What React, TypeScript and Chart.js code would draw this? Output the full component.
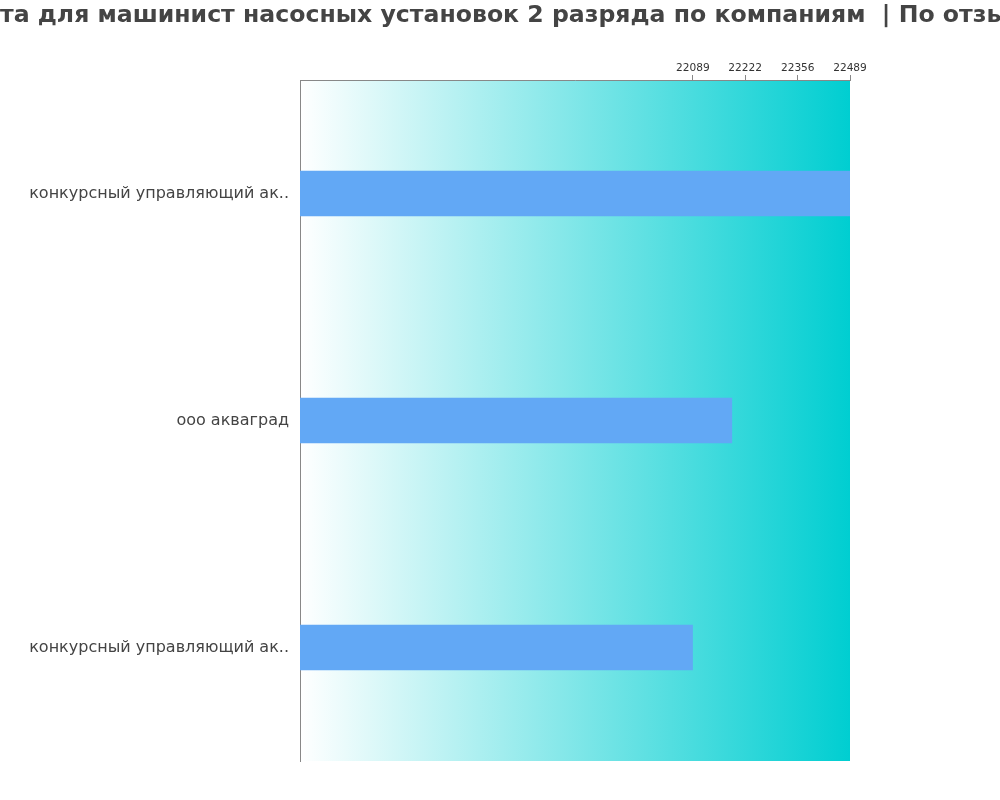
import React, { useEffect, useRef } from "react";
import { Chart, registerables } from "chart.js";

Chart.register(...registerables);

const TITLE = "Зарплата для машинист насосных установок 2 разряда по компаниям  | По отзывам";
const TITLE_HIDDEN_PREFIX = "Зарпла";
const categories = ["конкурсный управляющий ак..", "ооо акваград", "конкурсный управляющий ак.."];
const salaries = [22489, 22189, 22089];
const axisMin = 21089;
const axisMax = 22489;
const tickValues = [22089, 22222, 22356, 22489];

const bgPlugin = {
  id: "bgGradient",
  beforeDraw(chart: any) {
    const { ctx, chartArea } = chart;
    if (!chartArea) return;
    const g = ctx.createLinearGradient(chartArea.left, 0, chartArea.right, 0);
    g.addColorStop(0, "#ffffff");
    g.addColorStop(1, "#00ced1");
    ctx.save();
    ctx.fillStyle = g;
    ctx.fillRect(chartArea.left, chartArea.top, chartArea.right - chartArea.left, chartArea.bottom - chartArea.top);
    ctx.restore();
  },
};

const titlePlugin = {
  id: "clippedTitle",
  afterDraw(chart: any) {
    const { ctx } = chart;
    ctx.save();
    ctx.font = "bold 23.6px 'DejaVu Sans'";
    ctx.fillStyle = "#444444";
    ctx.textBaseline = "middle";
    ctx.textAlign = "left";
    const offset = ctx.measureText(TITLE_HIDDEN_PREFIX).width;
    ctx.fillText(TITLE, -offset, 16);
    ctx.restore();
  },
};

export default function App() {
  const ref = useRef<HTMLCanvasElement>(null);
  useEffect(() => {
    document.body.style.margin = "0";
    const chart = new Chart(ref.current as HTMLCanvasElement, {
      type: "bar",
      data: {
        labels: categories,
        datasets: [
          {
            data: salaries,
            backgroundColor: "#62a8f5",
            borderWidth: 0,
            barPercentage: 0.2,
            categoryPercentage: 1,
          },
        ],
      },
      options: {
        indexAxis: "y",
        animation: false,
        responsive: false,
        maintainAspectRatio: false,
        layout: { padding: { top: 56, right: 150, bottom: 39, left: 0 } },
        plugins: { legend: { display: false }, title: { display: false }, tooltip: { enabled: false } },
        scales: {
          x: {
            position: "top",
            min: axisMin,
            max: axisMax,
            afterBuildTicks(scale: any) {
              scale.ticks = tickValues.map((v) => ({ value: v }));
            },
            afterFit(scale: any) {
              scale.height = 24;
            },
            ticks: {
              autoSkip: false,
              maxRotation: 0,
              padding: 0,
              color: "#333333",
              font: { family: "'DejaVu Sans'", size: 10.6 },
              callback: (v: any) => String(v),
            },
            grid: { drawOnChartArea: false, drawTicks: true, tickLength: 5, color: "#888888" },
            border: { display: true, color: "#888888", width: 1 },
          },
          y: {
            afterFit(scale: any) {
              scale.width = 300;
            },
            ticks: {
              padding: 11,
              color: "#444444",
              font: { family: "'DejaVu Sans'", size: 16 },
            },
            grid: { display: false, drawTicks: false },
            border: { display: true, color: "#888888", width: 1 },
          },
        },
      },
      plugins: [bgPlugin, titlePlugin],
    });
    return () => chart.destroy();
  }, []);
  return (
    <div style={{ position: "absolute", left: 0, top: 0, width: 1000, height: 800 }}>
      <canvas ref={ref} width={1000} height={800} style={{ width: 1000, height: 800 }} />
    </div>
  );
}
